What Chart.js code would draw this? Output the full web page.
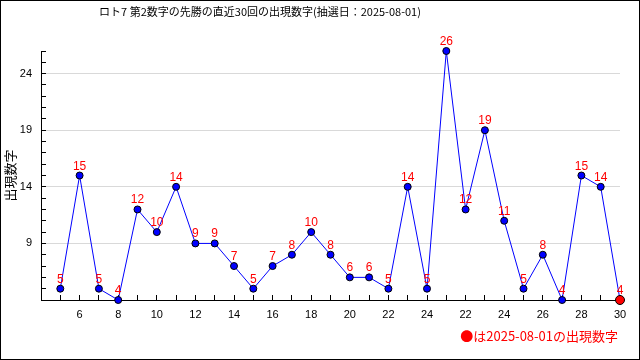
<!DOCTYPE html>
<html>
<head>
<meta charset="utf-8">
<script src="https://cdn.jsdelivr.net/npm/chart.js@4"></script>
<style>
html,body{margin:0;padding:0;background:#fff;}
canvas{display:block;}
</style>
</head>
<body>
<canvas id="c" width="640" height="360"></canvas>
<script>
// x positions: category labels (draw labels as shown on the axis)
const categories = [5,6,7,8,9,10,11,12,13,14,15,16,17,18,19,20,21,22,23,24,21,22,23,24,25,26,27,28,29,30];
const values = [5,15,5,4,12,10,14,9,9,7,5,7,8,10,8,6,6,5,14,5,26,12,19,11,5,8,4,15,14,4];
const yMajorTicks = [9,14,19,24];
const titleText = 'ロト7 第2数字の先勝の直近30回の出現数字(抽選日：2025-08-01)';
const yTitle = '出現数字';
const footerText = '●は2025-08-01の出現数字';

const points = values.map((v, i) => ({x: i, y: v}));
const lastIdx = values.length - 1;

const extrasPlugin = {
  id: 'extras',
  afterDatasetsDraw(chart) {
    const ctx = chart.ctx;
    const meta = chart.getDatasetMeta(0);
    ctx.save();
    ctx.fillStyle = '#ff0000';
    ctx.font = '12px "Liberation Sans", Arial, sans-serif';
    ctx.textAlign = 'center';
    ctx.textBaseline = 'alphabetic';
    meta.data.forEach((pt, i) => {
      ctx.fillText(String(values[i]), pt.x, pt.y - 6);
    });
    ctx.restore();
  },
  afterDraw(chart) {
    const ctx = chart.ctx;
    ctx.save();
    ctx.fillStyle = '#000';
    ctx.font = '11px "Noto Sans CJK JP", sans-serif';
    ctx.textAlign = 'center';
    ctx.textBaseline = 'middle';
    ctx.fillText(titleText, 260, 12);
    ctx.fillStyle = '#ff0000';
    ctx.font = '13px "Noto Sans CJK JP", sans-serif';
    ctx.textAlign = 'right';
    ctx.fillText(footerText, 618, 336);
    ctx.strokeStyle = '#000';
    ctx.lineWidth = 1;
    ctx.strokeRect(0.5, 0.5, 639, 359);
    ctx.restore();
  }
};

new Chart(document.getElementById('c'), {
  type: 'line',
  data: {
    datasets: [{
      data: points,
      borderColor: '#0000ff',
      borderWidth: 1,
      tension: 0,
      fill: false,
      clip: false,
      pointRadius: values.map((v, i) => i === lastIdx ? 4.5 : 3.5),
      pointBackgroundColor: values.map((v, i) => i === lastIdx ? '#ff0000' : '#0000ff'),
      pointBorderColor: '#000',
      pointBorderWidth: 1
    }]
  },
  options: {
    responsive: false,
    animation: false,
    events: [],
    layout: {padding: {top: 51, right: 20, left: 0, bottom: 0}},
    plugins: {legend: {display: false}, title: {display: false}, tooltip: {enabled: false}},
    scales: {
      x: {
        type: 'linear',
        min: -1,
        max: categories.length - 1,
        afterFit(scale) { scale.height = 60; },
        border: {display: true, color: '#000', width: 1},
        grid: {
          color: 'rgba(0,0,0,0)',
          tickColor: '#000',
          tickLength: -5,
          drawOnChartArea: true
        },
        ticks: {
          stepSize: 1,
          autoSkip: false,
          maxRotation: 0,
          padding: 13,
          color: '#000',
          font: {family: '"Liberation Sans", Arial, sans-serif', size: 11},
          callback(value) {
            const i = Math.round(value);
            return (i >= 1 && i % 2 === 1) ? String(categories[i]) : '';
          }
        }
      },
      y: {
        type: 'linear',
        min: 4,
        max: 26,
        afterFit(scale) { scale.width = 41; },
        border: {display: true, color: '#000', width: 1},
        grid: {
          color(ctx) { return ctx.tick && yMajorTicks.includes(ctx.tick.value) ? '#d9d9d9' : 'rgba(0,0,0,0)'; },
          tickColor: '#000',
          tickLength: -5
        },
        title: {
          display: true,
          text: yTitle,
          color: '#000',
          font: {family: '"Noto Sans CJK JP", sans-serif', size: 13},
          padding: {top: 2, bottom: 0}
        },
        ticks: {
          stepSize: 1,
          autoSkip: false,
          padding: 14,
          color: '#000',
          font: {family: '"Liberation Sans", Arial, sans-serif', size: 11},
          callback(value) { return yMajorTicks.includes(value) ? String(value) : ''; }
        }
      }
    }
  },
  plugins: [extrasPlugin]
});
</script>
</body>
</html>
